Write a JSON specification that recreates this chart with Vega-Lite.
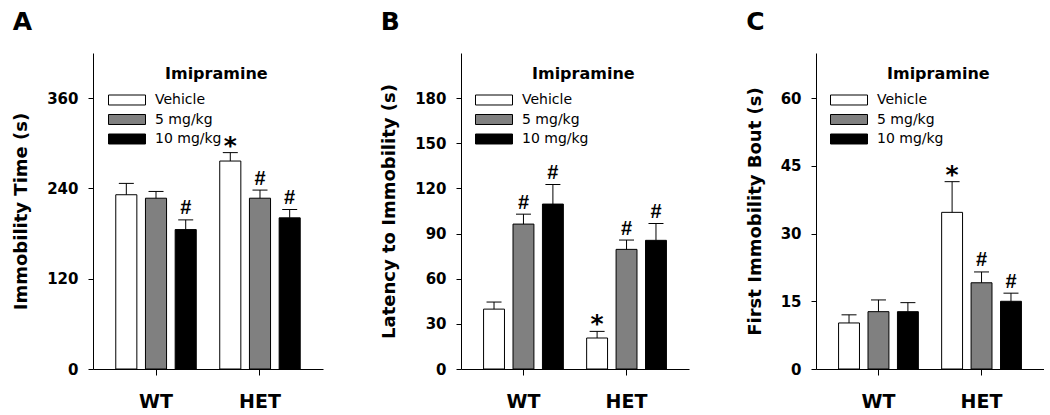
{
  "$schema": "https://vega.github.io/schema/vega-lite/v6.json",
  "background": "#ffffff",
  "padding": {"left": 12, "top": 10, "right": 0, "bottom": 0},
  "spacing": 57,
  "datasets": {
    "d": [
      {"panel": "A", "genotype": "WT", "dose": "Vehicle", "mean": 231.6, "err": 246.7, "sig": ""},
      {"panel": "A", "genotype": "WT", "dose": "5 mg/kg", "mean": 227, "err": 236, "sig": ""},
      {"panel": "A", "genotype": "WT", "dose": "10 mg/kg", "mean": 185.3, "err": 198.2, "sig": "#"},
      {"panel": "A", "genotype": "HET", "dose": "Vehicle", "mean": 276.4, "err": 287.6, "sig": "*"},
      {"panel": "A", "genotype": "HET", "dose": "5 mg/kg", "mean": 227, "err": 237.8, "sig": "#"},
      {"panel": "A", "genotype": "HET", "dose": "10 mg/kg", "mean": 200.9, "err": 212, "sig": "#"},
      {"panel": "B", "genotype": "WT", "dose": "Vehicle", "mean": 39.8, "err": 44.5, "sig": ""},
      {"panel": "B", "genotype": "WT", "dose": "5 mg/kg", "mean": 96.3, "err": 102.9, "sig": "#"},
      {"panel": "B", "genotype": "WT", "dose": "10 mg/kg", "mean": 109.6, "err": 122.6, "sig": "#"},
      {"panel": "B", "genotype": "HET", "dose": "Vehicle", "mean": 20.6, "err": 25, "sig": "*"},
      {"panel": "B", "genotype": "HET", "dose": "5 mg/kg", "mean": 79.5, "err": 85.7, "sig": "#"},
      {"panel": "B", "genotype": "HET", "dose": "10 mg/kg", "mean": 85.5, "err": 96.7, "sig": "#"},
      {"panel": "C", "genotype": "WT", "dose": "Vehicle", "mean": 10.2, "err": 12, "sig": ""},
      {"panel": "C", "genotype": "WT", "dose": "5 mg/kg", "mean": 12.7, "err": 15.3, "sig": ""},
      {"panel": "C", "genotype": "WT", "dose": "10 mg/kg", "mean": 12.7, "err": 14.7, "sig": ""},
      {"panel": "C", "genotype": "HET", "dose": "Vehicle", "mean": 34.7, "err": 41.5, "sig": "*"},
      {"panel": "C", "genotype": "HET", "dose": "5 mg/kg", "mean": 19.1, "err": 21.5, "sig": "#"},
      {"panel": "C", "genotype": "HET", "dose": "10 mg/kg", "mean": 15.0, "err": 16.8, "sig": "#"}
    ]
  },
  "resolve": {"scale": {"fill": "independent", "y": "independent", "x": "independent", "xOffset": "independent"}, "legend": {"fill": "independent"}},
  "hconcat": [
    {
      "width": 230, "height": 316,
      "title": {"text": "A"},
      "data": {"name": "d"},
      "transform": [{"filter": "datum.panel === 'A'"}],
      "encoding": {
        "x": {"field": "genotype", "type": "nominal", "sort": ["WT", "HET"], "scale": {"paddingInner": 0.226, "paddingOuter": 0.219}, "title": null},
        "xOffset": {"field": "dose", "type": "nominal", "sort": ["Vehicle", "5 mg/kg", "10 mg/kg"], "scale": {"paddingInner": 0.29, "paddingOuter": 0}}
      },
      "layer": [
        {
          "mark": {"type": "bar", "stroke": "#000000", "strokeWidth": 1},
          "encoding": {
            "y": {"field": "mean", "type": "quantitative", "scale": {"domain": [0, 420], "nice": false}, "axis": {"values": [0, 120, 240, 360]}, "title": "Immobility Time (s)"},
            "fill": {"field": "dose", "type": "nominal", "scale": {"domain": ["Vehicle", "5 mg/kg", "10 mg/kg"], "range": ["#ffffff", "#808080", "#000000"]}, "legend": {"orient": "none", "legendX": 15, "legendY": 13, "title": "Imipramine"}}
          }
        },
        {
          "mark": {"type": "rule", "color": "#000000", "strokeWidth": 1},
          "encoding": {"y": {"field": "mean", "type": "quantitative", "title": "Immobility Time (s)"}, "y2": {"field": "err"}}
        },
        {
          "mark": {"type": "tick", "color": "#000000", "size": 15, "thickness": 1, "opacity": 1},
          "encoding": {"y": {"field": "err", "type": "quantitative", "title": "Immobility Time (s)"}}
        },
        {
          "transform": [{"filter": "datum.sig === '#'"}],
          "mark": {"type": "text", "font": "Liberation Sans", "fontWeight": "bold", "fontSize": 20, "baseline": "alphabetic", "dy": -5.5, "color": "#000000"},
          "encoding": {"y": {"field": "err", "type": "quantitative", "title": "Immobility Time (s)"}, "text": {"field": "sig"}}
        },
        {
          "transform": [{"filter": "datum.sig === '*'"}],
          "mark": {"type": "text", "font": "DejaVu Sans", "fontWeight": "bold", "fontSize": 25, "baseline": "alphabetic", "dy": 1, "color": "#000000"},
          "encoding": {"y": {"field": "err", "type": "quantitative", "title": "Immobility Time (s)"}, "text": {"field": "sig"}}
        }
      ]
    },
    {
      "width": 228, "height": 316,
      "title": {"text": "B"},
      "data": {"name": "d"},
      "transform": [{"filter": "datum.panel === 'B'"}],
      "encoding": {
        "x": {"field": "genotype", "type": "nominal", "sort": ["WT", "HET"], "scale": {"paddingInner": 0.226, "paddingOuter": 0.219}, "title": null},
        "xOffset": {"field": "dose", "type": "nominal", "sort": ["Vehicle", "5 mg/kg", "10 mg/kg"], "scale": {"paddingInner": 0.29, "paddingOuter": 0}}
      },
      "layer": [
        {
          "mark": {"type": "bar", "stroke": "#000000", "strokeWidth": 1},
          "encoding": {
            "y": {"field": "mean", "type": "quantitative", "scale": {"domain": [0, 210], "nice": false}, "axis": {"values": [0, 30, 60, 90, 120, 150, 180]}, "title": "Latency to Immobility (s)"},
            "fill": {"field": "dose", "type": "nominal", "scale": {"domain": ["Vehicle", "5 mg/kg", "10 mg/kg"], "range": ["#ffffff", "#808080", "#000000"]}, "legend": {"orient": "none", "legendX": 14, "legendY": 13, "title": "Imipramine"}}
          }
        },
        {
          "mark": {"type": "rule", "color": "#000000", "strokeWidth": 1},
          "encoding": {"y": {"field": "mean", "type": "quantitative", "title": "Latency to Immobility (s)"}, "y2": {"field": "err"}}
        },
        {
          "mark": {"type": "tick", "color": "#000000", "size": 15, "thickness": 1, "opacity": 1},
          "encoding": {"y": {"field": "err", "type": "quantitative", "title": "Latency to Immobility (s)"}}
        },
        {
          "transform": [{"filter": "datum.sig === '#'"}],
          "mark": {"type": "text", "font": "Liberation Sans", "fontWeight": "bold", "fontSize": 20, "baseline": "alphabetic", "dy": -5.5, "color": "#000000"},
          "encoding": {"y": {"field": "err", "type": "quantitative", "title": "Latency to Immobility (s)"}, "text": {"field": "sig"}}
        },
        {
          "transform": [{"filter": "datum.sig === '*'"}],
          "mark": {"type": "text", "font": "DejaVu Sans", "fontWeight": "bold", "fontSize": 25, "baseline": "alphabetic", "dy": 1, "color": "#000000"},
          "encoding": {"y": {"field": "err", "type": "quantitative", "title": "Latency to Immobility (s)"}, "text": {"field": "sig"}}
        }
      ]
    },
    {
      "width": 228, "height": 316,
      "title": {"text": "C"},
      "data": {"name": "d"},
      "transform": [{"filter": "datum.panel === 'C'"}],
      "encoding": {
        "x": {"field": "genotype", "type": "nominal", "sort": ["WT", "HET"], "scale": {"paddingInner": 0.226, "paddingOuter": 0.219}, "title": null},
        "xOffset": {"field": "dose", "type": "nominal", "sort": ["Vehicle", "5 mg/kg", "10 mg/kg"], "scale": {"paddingInner": 0.29, "paddingOuter": 0}}
      },
      "layer": [
        {
          "mark": {"type": "bar", "stroke": "#000000", "strokeWidth": 1},
          "encoding": {
            "y": {"field": "mean", "type": "quantitative", "scale": {"domain": [0, 70], "nice": false}, "axis": {"values": [0, 15, 30, 45, 60]}, "title": "First Immobility Bout (s)"},
            "fill": {"field": "dose", "type": "nominal", "scale": {"domain": ["Vehicle", "5 mg/kg", "10 mg/kg"], "range": ["#ffffff", "#808080", "#000000"]}, "legend": {"orient": "none", "legendX": 14, "legendY": 13, "title": "Imipramine"}}
          }
        },
        {
          "mark": {"type": "rule", "color": "#000000", "strokeWidth": 1},
          "encoding": {"y": {"field": "mean", "type": "quantitative", "title": "First Immobility Bout (s)"}, "y2": {"field": "err"}}
        },
        {
          "mark": {"type": "tick", "color": "#000000", "size": 15, "thickness": 1, "opacity": 1},
          "encoding": {"y": {"field": "err", "type": "quantitative", "title": "First Immobility Bout (s)"}}
        },
        {
          "transform": [{"filter": "datum.sig === '#'"}],
          "mark": {"type": "text", "font": "Liberation Sans", "fontWeight": "bold", "fontSize": 20, "baseline": "alphabetic", "dy": -5.5, "color": "#000000"},
          "encoding": {"y": {"field": "err", "type": "quantitative", "title": "First Immobility Bout (s)"}, "text": {"field": "sig"}}
        },
        {
          "transform": [{"filter": "datum.sig === '*'"}],
          "mark": {"type": "text", "font": "DejaVu Sans", "fontWeight": "bold", "fontSize": 25, "baseline": "alphabetic", "dy": 1, "color": "#000000"},
          "encoding": {"y": {"field": "err", "type": "quantitative", "title": "First Immobility Bout (s)"}, "text": {"field": "sig"}}
        }
      ]
    }
  ],
  "config": {
    "view": {"stroke": null},
    "bar": {"opacity": 1},
    "title": {"anchor": "start", "frame": "bounds", "font": "DejaVu Sans", "fontSize": 25, "fontWeight": "bold", "color": "#000000", "baseline": "alphabetic", "offset": 18},
    "axis": {"grid": false, "domainColor": "#000000", "tickColor": "#000000", "labelColor": "#000000", "titleColor": "#000000", "labelFont": "DejaVu Sans", "labelFontWeight": "bold", "titleFont": "DejaVu Sans", "titleFontWeight": "bold", "domainWidth": 1, "tickWidth": 1},
    "axisY": {"labelFontSize": 15, "titleFontSize": 18, "tickSize": 5, "labelPadding": 10, "titlePadding": 16},
    "axisX": {"labelFontSize": 19, "tickSize": 6, "labelPadding": 17, "labelAngle": 0, "domain": true, "ticks": true},
    "legend": {"titleFont": "DejaVu Sans", "titleFontSize": 16, "titleFontWeight": "bold", "titleColor": "#000000", "titleAnchor": "middle", "titleAlign": "left", "titlePadding": 11, "symbolType": "M-1,-0.27H1V0.27H-1Z", "symbolSize": 1369, "symbolStrokeColor": "#000000", "symbolStrokeWidth": 1, "symbolOpacity": 1, "clipHeight": 14, "rowPadding": 5.5, "labelFont": "DejaVu Sans", "labelFontSize": 14, "labelColor": "#000000", "labelOffset": 9, "padding": 0}
  }
}
